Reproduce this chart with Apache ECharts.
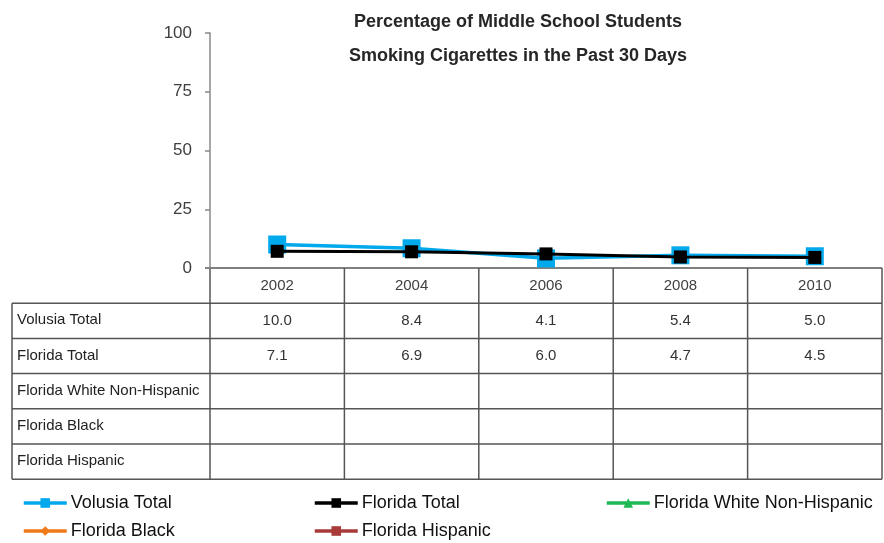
<!DOCTYPE html>
<html>
<head>
<meta charset="utf-8">
<script src="https://cdn.jsdelivr.net/npm/echarts@6/dist/echarts.min.js"></script>
<style>
  html, body { margin: 0; padding: 0; background: #fff; }
  #main { width: 884px; height: 543px; }
</style>
</head>
<body>
<div id="main"></div>
<script>
const years = ['2002', '2004', '2006', '2008', '2010'];
const volusiaTotal = [10.0, 8.4, 4.1, 5.4, 5.0];
const floridaTotal = [7.1, 6.9, 6.0, 4.7, 4.5];
const floridaWhite = [null, null, null, null, null];
const floridaBlack = [null, null, null, null, null];
const floridaHispanic = [null, null, null, null, null];
const yTicks = [0, 25, 50, 75, 100];

const rows = [
  { name: 'Volusia Total', data: volusiaTotal },
  { name: 'Florida Total', data: floridaTotal },
  { name: 'Florida White Non-Hispanic', data: floridaWhite },
  { name: 'Florida Black', data: floridaBlack },
  { name: 'Florida Hispanic', data: floridaHispanic }
];

const tableFont = '"Liberation Sans", Arial, sans-serif';
const legendFont = '"Liberation Sans", Arial, sans-serif';
const gridLeft = 210;
const gridRight = 882;
const axisY = 268;
const rowH = 35.2;
const tableLeft = 12;
const lineColor = '#555';

const chart = echarts.init(document.getElementById('main'));

function legendAt(name, left, top) {
  return {
    data: [name],
    left: left,
    top: top,
    itemWidth: 43,
    itemHeight: 12,
    itemGap: 4,
    padding: 0,
    lineStyle: { width: 3.5 },
    textStyle: { fontFamily: legendFont, fontSize: 18, color: '#111', padding: [0, 0, 0, -1] }
  };
}

chart.setOption({
  animation: false,
  title: {
    text: 'Percentage of Middle School Students\nSmoking Cigarettes in the Past 30 Days',
    left: 513,
    top: 0,
    textAlign: 'center',
    textStyle: {
      fontFamily: tableFont,
      fontSize: 18,
      fontWeight: 'bold',
      color: '#262626',
      lineHeight: 34
    }
  },
  legend: [
    legendAt('Volusia Total', 22, 494),
    legendAt('Florida Total', 313, 494),
    legendAt('Florida White Non-Hispanic', 605, 494),
    legendAt('Florida Black', 22, 522),
    legendAt('Florida Hispanic', 313, 522)
  ],
  grid: { left: gridLeft, right: 884 - gridRight, top: 33, bottom: 543 - axisY },
  xAxis: {
    type: 'category',
    data: years,
    boundaryGap: true,
    axisLine: { show: false },
    axisTick: { show: false },
    axisLabel: {
      margin: 10,
      fontFamily: tableFont,
      fontSize: 15,
      color: '#404040'
    }
  },
  yAxis: {
    type: 'value',
    min: yTicks[0],
    max: yTicks[yTicks.length - 1],
    interval: 25,
    axisLine: { show: true, lineStyle: { color: '#888', width: 1.5 } },
    axisTick: { show: true, length: 5, lineStyle: { color: '#888', width: 1.5 } },
    splitLine: { show: false },
    axisLabel: {
      margin: 18,
      fontFamily: tableFont,
      fontSize: 17,
      color: '#404040'
    }
  },
  series: [
    {
      name: 'Volusia Total', type: 'line', data: volusiaTotal,
      symbol: 'rect', symbolSize: 18,
      itemStyle: { color: '#00A8EC' },
      lineStyle: { color: '#00A8EC', width: 3.5 },
      z: 2
    },
    {
      name: 'Florida Total', type: 'line', data: floridaTotal,
      symbol: 'rect', symbolSize: 13,
      itemStyle: { color: '#000' },
      lineStyle: { color: '#000', width: 3 },
      z: 3
    },
    {
      name: 'Florida White Non-Hispanic', type: 'line', data: floridaWhite,
      symbol: 'triangle', symbolSize: 9,
      itemStyle: { color: '#1DB954' },
      lineStyle: { color: '#1DB954', width: 3.5 }
    },
    {
      name: 'Florida Black', type: 'line', data: floridaBlack,
      symbol: 'diamond', symbolSize: 10,
      itemStyle: { color: '#F07A1A' },
      lineStyle: { color: '#F07A1A', width: 3.5 }
    },
    {
      name: 'Florida Hispanic', type: 'line', data: floridaHispanic,
      symbol: 'rect', symbolSize: [3, 10],
      itemStyle: { color: '#A83A3A' },
      lineStyle: { color: '#A83A3A', width: 3.5 }
    }
  ]
});

// data table under the axis, columns follow the category axis
const graphics = [];
const colW = (gridRight - gridLeft) / years.length;
const tableBottom = axisY + rowH * (rows.length + 1);

function hLine(x1, x2, y) {
  graphics.push({ type: 'line', shape: { x1: x1, y1: y, x2: x2, y2: y }, style: { stroke: lineColor, lineWidth: 1.5 } });
}
function vLine(x, y1, y2) {
  graphics.push({ type: 'line', shape: { x1: x, y1: y1, x2: x, y2: y2 }, style: { stroke: lineColor, lineWidth: 1.5 } });
}

hLine(gridLeft - 5, gridRight, axisY);
for (let r = 1; r <= rows.length + 1; r++) {
  hLine(tableLeft, gridRight, axisY + rowH * r);
}
vLine(tableLeft, axisY + rowH, tableBottom);
vLine(gridLeft, axisY, tableBottom);
years.forEach((y, i) => {
  const cx = chart.convertToPixel({ xAxisIndex: 0 }, i);
  vLine(cx + colW / 2, axisY, tableBottom);
});

rows.forEach((row, r) => {
  const cy = axisY + rowH * (r + 1) + rowH / 2;
  graphics.push({
    type: 'text', left: tableLeft + 5, top: cy - 8,
    style: { text: row.name, fontFamily: tableFont, fontSize: 15, fill: '#222' }
  });
  row.data.forEach((v, i) => {
    if (v === null) return;
    const cx = chart.convertToPixel({ xAxisIndex: 0 }, i);
    graphics.push({
      type: 'text', x: cx, y: cy,
      style: { text: v.toFixed(1), fontFamily: tableFont, fontSize: 15, fill: '#333', align: 'center', verticalAlign: 'middle' }
    });
  });
});

chart.setOption({ graphic: graphics });
</script>
</body>
</html>
